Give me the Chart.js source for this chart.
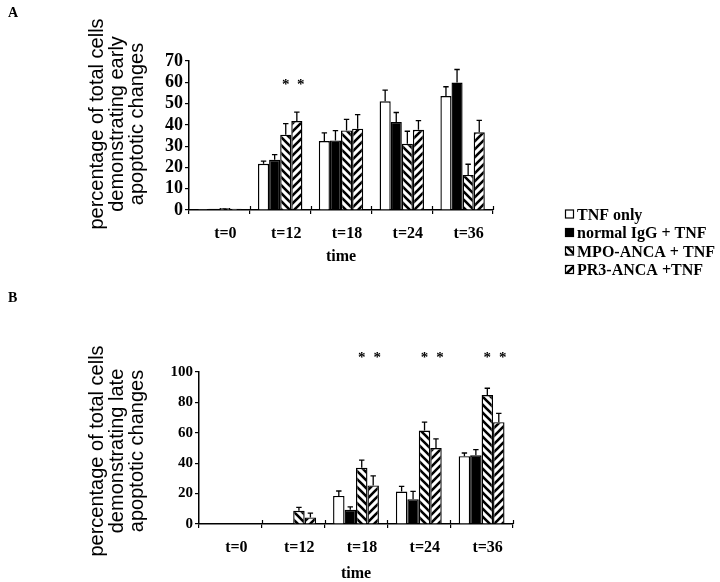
<!DOCTYPE html>
<html><head><meta charset="utf-8">
<script src="https://cdn.jsdelivr.net/npm/chart.js@4/dist/chart.umd.min.js"></script>
<style>
html,body{margin:0;padding:0;background:#fff;}
#wrap{position:relative;width:720px;height:582px;overflow:hidden;background:#fff;}
canvas{position:absolute;left:0;}
#cA{top:0;} #cB{top:290px;}
</style></head><body>
<div id="wrap">
<canvas id="cA" width="720" height="290"></canvas>
<canvas id="cB" width="720" height="292"></canvas>
</div>
<script>
// ---------- data ----------
const categories = ['t=0', 't=12', 't=18', 't=24', 't=36'];
const seriesNames = ['TNF only', 'normal IgG + TNF', 'MPO-ANCA + TNF', 'PR3-ANCA +TNF'];

// Panel A: early apoptotic changes (%)
const earlyTNF = [0.5, 21.7, 32.4, 51.1, 53.5];
const earlyIgG = [0.6, 23.6, 32.7, 41.4, 59.9];
const earlyMPO = [0.9, 35.4, 37.4, 31.1, 16.5];
const earlyPR3 = [0.6, 41.8, 38.2, 37.7, 36.5];
const earlyTNFerr = [0, 1.3, 3.8, 5.2, 4.4];
const earlyIgGerr = [0, 2.4, 4.6, 4.4, 6.1];
const earlyMPOerr = [0, 5.2, 5.2, 5.9, 5.0];
const earlyPR3err = [0, 4.2, 6.6, 4.3, 5.6];
const earlySignificant = ['t=12'];
const earlyTicks = [0, 10, 20, 30, 40, 50, 60, 70];

// Panel B: late apoptotic changes (%)
const lateTNF = [0, 0, 18.5, 21.3, 44.6];
const lateIgG = [0, 0, 9.3, 16.3, 45.2];
const lateMPO = [0, 8.7, 37.0, 61.5, 84.8];
const latePR3 = [0, 4.3, 25.4, 50.0, 67.0];
const lateTNFerr = [0, 0, 3.2, 3.5, 2.1];
const lateIgGerr = [0, 0, 2.0, 5.2, 3.7];
const lateMPOerr = [0, 2.2, 5.0, 5.5, 4.5];
const latePR3err = [0, 2.9, 6.3, 6.0, 5.8];
const lateSignificant = ['t=18', 't=24', 't=36'];
const lateTicks = [0, 20, 40, 60, 80, 100];

const xTitle = 'time';
const earlyTitle = ['percentage of total cells', 'demonstrating early', 'apoptotic changes'];
const lateTitle = ['percentage of total cells', 'demonstrating late', 'apoptotic changes'];

// ---------- styling helpers ----------
const SERIF = '"Liberation Serif", "Times New Roman", serif';
const SANS = '"Liberation Sans", Arial, sans-serif';

function hatch(ctx, dir) {
  const c = document.createElement('canvas');
  c.width = 8; c.height = 8;
  const g = c.getContext('2d');
  g.fillStyle = '#fff'; g.fillRect(0, 0, 8, 8);
  g.strokeStyle = '#000'; g.lineWidth = 2.6;
  g.beginPath();
  if (dir === 'back') {
    g.moveTo(-2, -2); g.lineTo(10, 10);
    g.moveTo(-2, 6); g.lineTo(2, 10);
    g.moveTo(6, -2); g.lineTo(10, 2);
  } else {
    g.moveTo(-2, 10); g.lineTo(10, -2);
    g.moveTo(-2, 2); g.lineTo(2, -2);
    g.moveTo(6, 10); g.lineTo(10, 6);
  }
  g.stroke();
  return ctx.createPattern(c, 'repeat');
}

function fillsFor(ctx) {
  return ['#ffffff', '#000000', hatch(ctx, 'back'), hatch(ctx, 'fwd')];
}

function makeDatasets(ctx, vals) {
  const fills = fillsFor(ctx);
  return seriesNames.map((n, i) => ({
    label: n,
    data: vals[i],
    backgroundColor: fills[i],
    borderColor: '#000',
    borderWidth: 1.4,
    categoryPercentage: 0.73,
    barPercentage: 1.0
  }));
}

function errorPlugin(errors) {
  return {
    id: 'errorBars',
    afterDatasetsDraw(chart) {
      const ctx = chart.ctx, ys = chart.scales.y;
      ctx.save();
      ctx.strokeStyle = '#000'; ctx.lineWidth = 1.3;
      chart.data.datasets.forEach((ds, di) => {
        const meta = chart.getDatasetMeta(di);
        meta.data.forEach((bar, i) => {
          const e = errors[di][i];
          if (!e) return;
          const v = ds.data[i];
          const x = bar.x;
          const y0 = ys.getPixelForValue(v);
          const y1 = ys.getPixelForValue(v + e);
          ctx.beginPath();
          ctx.moveTo(x, y0); ctx.lineTo(x, y1);
          ctx.moveTo(x - 2.7, y1); ctx.lineTo(x + 2.7, y1);
          ctx.stroke();
        });
      });
      ctx.restore();
    }
  };
}

function starPlugin(sig, level) {
  return {
    id: 'stars',
    afterDatasetsDraw(chart) {
      const ctx = chart.ctx, ys = chart.scales.y;
      ctx.save();
      ctx.fillStyle = '#000';
      ctx.font = 'bold 15px ' + SERIF;
      ctx.textAlign = 'center'; ctx.textBaseline = 'middle';
      sig.forEach(cat => {
        const i = categories.indexOf(cat);
        const mpo = chart.getDatasetMeta(2).data[i];
        const pr3 = chart.getDatasetMeta(3).data[i];
        const y = ys.getPixelForValue(level) + 3;
        ctx.fillText('*', mpo.x, y);
        ctx.fillText('*', pr3.x + 4, y);
      });
      ctx.restore();
    }
  };
}

const innerTicks = {
  id: 'innerTicks',
  afterDraw(chart) {
    const xs = chart.scales.x, ctx = chart.ctx;
    const n = categories.length;
    const step = (xs.right - xs.left) / n;
    ctx.save();
    ctx.strokeStyle = '#000'; ctx.lineWidth = 1.2;
    ctx.beginPath();
    for (let k = 1; k <= n; k++) {
      const x = Math.round(xs.left + k * step) + 0.5;
      ctx.moveTo(x, xs.top - 4); ctx.lineTo(x, xs.top);
    }
    ctx.stroke();
    ctx.restore();
  }
};

function textPlugin(letter, letterY, titleLines, titleCY, withLegend, ctxFills) {
  return {
    id: 'texts',
    afterDraw(chart) {
      const ctx = chart.ctx;
      ctx.save();
      ctx.fillStyle = '#000';
      // panel letter
      ctx.font = 'bold 14px ' + SERIF;
      ctx.textAlign = 'left'; ctx.textBaseline = 'middle';
      ctx.fillText(letter, 8, letterY);
      // y title (rotated, three lines)
      ctx.font = '20px ' + SANS;
      ctx.textAlign = 'center'; ctx.textBaseline = 'middle';
      titleLines.forEach((t, i) => {
        ctx.save();
        ctx.translate(97 + i * 20, titleCY);
        ctx.rotate(-Math.PI / 2);
        ctx.fillText(t, 0, 0);
        ctx.restore();
      });
      // shared legend
      if (withLegend) {
        const fills = ctxFills;
        ctx.font = 'bold 16px ' + SERIF;
        ctx.textAlign = 'left'; ctx.textBaseline = 'middle';
        seriesNames.forEach((n, i) => {
          const cy = 214.5 + i * 18.5;
          ctx.fillStyle = fills[i];
          ctx.fillRect(565, cy - 5, 9, 9);
          ctx.strokeStyle = '#000'; ctx.lineWidth = 1.2;
          ctx.strokeRect(565.5, cy - 4.5, 8, 8);
          ctx.fillStyle = '#000';
          ctx.fillText(n, 577, cy + 1);
        });
      }
      ctx.restore();
    }
  };
}

function makeOptions(cfg) {
  return {
    responsive: false,
    animation: false,
    events: [],
    layout: { padding: { top: cfg.top, right: cfg.right, left: 0, bottom: 0 } },
    plugins: { legend: { display: false }, tooltip: { enabled: false } },
    scales: {
      x: {
        type: 'category',
        offset: true,
        grid: { display: true, drawOnChartArea: false, drawTicks: true, tickLength: 4, color: '#000', lineWidth: 1.2, offset: true },
        border: { display: true, color: '#000', width: 1.5 },
        ticks: { color: '#000', font: { family: SERIF, size: 16, weight: 'bold' }, padding: cfg.xPad, labelOffset: 6, maxRotation: 0, autoSkip: false },
        title: { display: true, text: xTitle, color: '#000', font: { family: SERIF, size: 16, weight: 'bold', lineHeight: 1 }, padding: { top: 0, bottom: cfg.titlePad } },
        afterFit(s) { s.height = cfg.xH; }
      },
      y: {
        min: cfg.ticks[0],
        max: cfg.ticks[cfg.ticks.length - 1],
        afterBuildTicks(s) { s.ticks = cfg.ticks.map(v => ({ value: v })); },
        grid: { display: true, drawOnChartArea: false, drawTicks: true, tickLength: 4, color: '#000', lineWidth: 1.2 },
        border: { display: true, color: '#000', width: 1.5 },
        ticks: { color: '#000', font: { family: SERIF, size: cfg.ySize, weight: 'bold' }, padding: 2, autoSkip: false },
        afterFit(s) { s.width = cfg.yW; }
      }
    }
  };
}

// ---------- chart A ----------
const ctxA = document.getElementById('cA').getContext('2d');
const fillsA = fillsFor(ctxA);
new Chart(ctxA, {
  type: 'bar',
  data: { labels: categories, datasets: makeDatasets(ctxA, [earlyTNF, earlyIgG, earlyMPO, earlyPR3]) },
  options: makeOptions({ top: 61, right: 227, xH: 80, xPad: 10, titlePad: 25, yW: 189, ySize: 18, ticks: earlyTicks }),
  plugins: [
    errorPlugin([earlyTNFerr, earlyIgGerr, earlyMPOerr, earlyPR3err]),
    starPlugin(earlySignificant, 60.3),
    innerTicks,
    textPlugin('A', 13, earlyTitle, 124, true, fillsA)
  ]
});

// ---------- chart B ----------
const ctxB = document.getElementById('cB').getContext('2d');
new Chart(ctxB, {
  type: 'bar',
  data: { labels: categories, datasets: makeDatasets(ctxB, [lateTNF, lateIgG, lateMPO, latePR3]) },
  options: makeOptions({ top: 82, right: 207, xH: 58, xPad: 10, titlePad: 0, yW: 199, ySize: 15, ticks: lateTicks }),
  plugins: [
    errorPlugin([lateTNFerr, lateIgGerr, lateMPOerr, latePR3err]),
    starPlugin(lateSignificant, 111),
    innerTicks,
    textPlugin('B', 8, lateTitle, 161, false, null)
  ]
});
</script>
</body></html>
